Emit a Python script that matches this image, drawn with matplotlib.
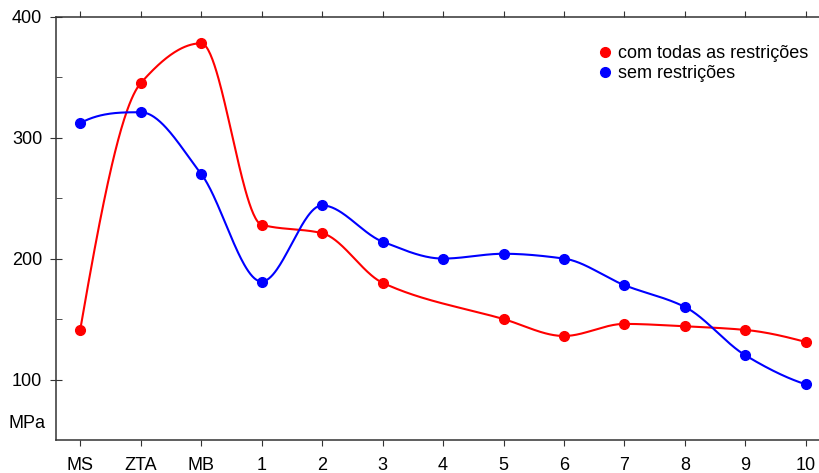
import matplotlib.pyplot as plt
import numpy as np

# dados
categorias = ["MS", "ZTA", "MB", "1", "2", "3", "4", "5", "6", "7", "8", "9", "10"]
x_red = [0, 1, 2, 3, 4, 5, 7, 8, 9, 10, 11, 12]
y_red = [141, 345, 378, 228, 221, 180, 150, 136, 146, 144, 141, 131]
x_blue = [0, 1, 2, 3, 4, 5, 6, 7, 8, 9, 10, 11, 12]
y_blue = [312, 321, 270, 181, 244, 214, 200, 204, 200, 178, 160, 120, 96]


# interpolação cúbica monótona (PCHIP), só para suavizar a linha
def suaviza(x, y, n=60):
    x = np.asarray(x, float)
    y = np.asarray(y, float)
    h = np.diff(x)
    d = np.diff(y) / h
    k = len(x)
    m = np.zeros(k)
    for i in range(1, k - 1):
        if d[i - 1] * d[i] > 0:
            w1 = 2 * h[i] + h[i - 1]
            w2 = h[i] + 2 * h[i - 1]
            m[i] = (w1 + w2) / (w1 / d[i - 1] + w2 / d[i])

    def ponta(h0, h1, d0, d1):
        s = ((2 * h0 + h1) * d0 - h0 * d1) / (h0 + h1)
        if np.sign(s) != np.sign(d0):
            s = 0.0
        elif np.sign(d0) != np.sign(d1) and abs(s) > abs(3 * d0):
            s = 3 * d0
        return s

    m[0] = ponta(h[0], h[1], d[0], d[1])
    m[-1] = ponta(h[-1], h[-2], d[-1], d[-2])

    xs_all, ys_all = [], []
    for i in range(k - 1):
        t = np.linspace(0, 1, n)
        h00 = 2 * t ** 3 - 3 * t ** 2 + 1
        h10 = t ** 3 - 2 * t ** 2 + t
        h01 = -2 * t ** 3 + 3 * t ** 2
        h11 = t ** 3 - t ** 2
        xs_all.append(x[i] + t * h[i])
        ys_all.append(h00 * y[i] + h10 * h[i] * m[i] + h01 * y[i + 1] + h11 * h[i] * m[i + 1])
    return np.concatenate(xs_all), np.concatenate(ys_all)


plt.rcParams['font.family'] = ['Liberation Sans', 'DejaVu Sans']

fig = plt.figure(figsize=(8.19, 4.73), dpi=100)
ax = fig.add_axes([56 / 819, 33 / 473, 765 / 819, 423.3 / 473])

xs, ys = suaviza(x_red, y_red)
ax.plot(xs, ys, color="#ff0000", linewidth=1.5)
ax.plot(x_red, y_red, "o", color="#ff0000", markersize=7, label="com todas as restrições")

xs, ys = suaviza(x_blue, y_blue)
ax.plot(xs, ys, color="#0000ff", linewidth=1.5)
ax.plot(x_blue, y_blue, "o", color="#0000ff", markersize=7, label="sem restrições")

ax.set_xlim(-0.4, 12.25)
ax.set_ylim(50, 400)
ax.set_xticks(range(len(categorias)))
ax.set_xticklabels(categorias)
ax.set_yticks([100, 200, 300, 400])
ax.set_yticks([150, 250, 350], minor=True)

for s in ["left", "bottom", "top"]:
    ax.spines[s].set_color("#333333")
    ax.spines[s].set_linewidth(1.1)
ax.spines["right"].set_visible(False)

ax.tick_params(axis="x", which="both", direction="out", top=True, length=4,
               color="#333333", labelsize=13, pad=8)
ax.tick_params(axis="y", which="major", direction="inout", length=8,
               color="#333333", labelsize=13, pad=6)
ax.tick_params(axis="y", which="minor", direction="in", length=4, color="#333333")

ax.text(-0.58, 64, "MPa", transform=ax.transData, ha="right", va="center",
        fontsize=13)

ax.legend(loc="upper right", bbox_to_anchor=(1.0, 0.962), frameon=False,
          fontsize=13, handletextpad=0.1, labelspacing=0.15, handlelength=1.2,
          borderaxespad=0.3)

fig.savefig("out.png", dpi=100)
